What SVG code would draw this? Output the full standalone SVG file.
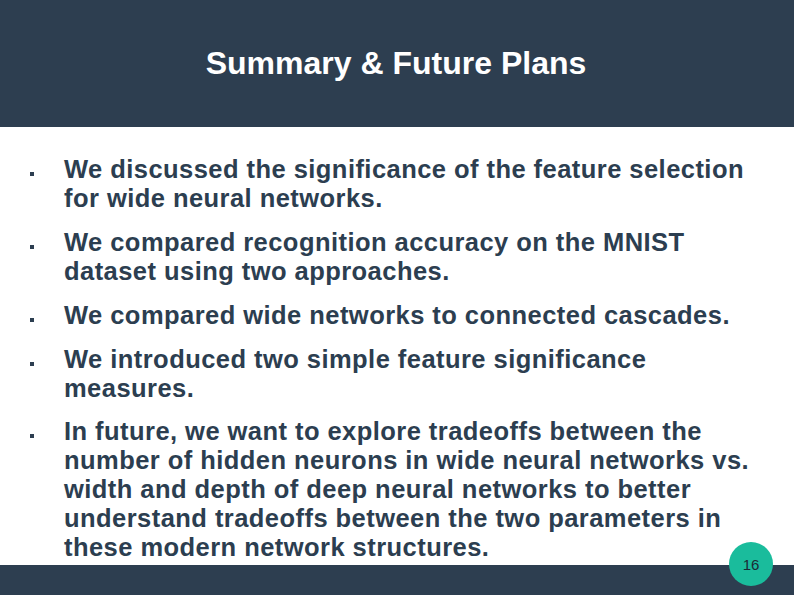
<svg xmlns="http://www.w3.org/2000/svg" width="794" height="595" viewBox="0 0 794 595">
<style>
.t{font-family:"Liberation Sans",Arial,sans-serif;font-weight:bold;font-size:25.5px;letter-spacing:0.45px;fill:#2c3e50}
.b{fill:#2c3e50}
</style>
<rect width="794" height="595" fill="#fff"/>
<rect width="794" height="127" fill="#2d3e50"/>
<text x="396" y="74" text-anchor="middle" font-family="Liberation Sans,Arial,sans-serif" font-weight="bold" font-size="32" fill="#fff">Summary &amp; Future Plans</text>
<rect x="0" y="565" width="794" height="30" fill="#2d3e50"/>
<g class="b">
<rect x="30" y="172" width="4" height="4"/>
<rect x="30" y="245" width="4" height="4"/>
<rect x="30" y="318" width="4" height="4"/>
<rect x="30" y="362" width="4" height="4"/>
<rect x="30" y="434" width="4" height="4"/>
</g>
<g class="t">
<text x="64" y="178">We discussed the significance of the feature selection</text>
<text x="64" y="207">for wide neural networks.</text>
<text x="64" y="251">We compared recognition accuracy on the MNIST</text>
<text x="64" y="280">dataset using two approaches.</text>
<text x="64" y="324">We compared wide networks to connected cascades.</text>
<text x="64" y="368">We introduced two simple feature significance</text>
<text x="64" y="397">measures.</text>
<text x="64" y="440">In future, we want to explore tradeoffs between the</text>
<text x="64" y="469">number of hidden neurons in wide neural networks vs.</text>
<text x="64" y="498">width and depth of deep neural networks to better</text>
<text x="64" y="527">understand tradeoffs between the two parameters in</text>
<text x="64" y="556">these modern network structures.</text>
</g>
<circle cx="751" cy="564" r="22" fill="#1abc9c"/>
<text x="751" y="570" text-anchor="middle" font-family="Liberation Sans,Arial,sans-serif" font-size="15" fill="#1c2a36">16</text>
</svg>
